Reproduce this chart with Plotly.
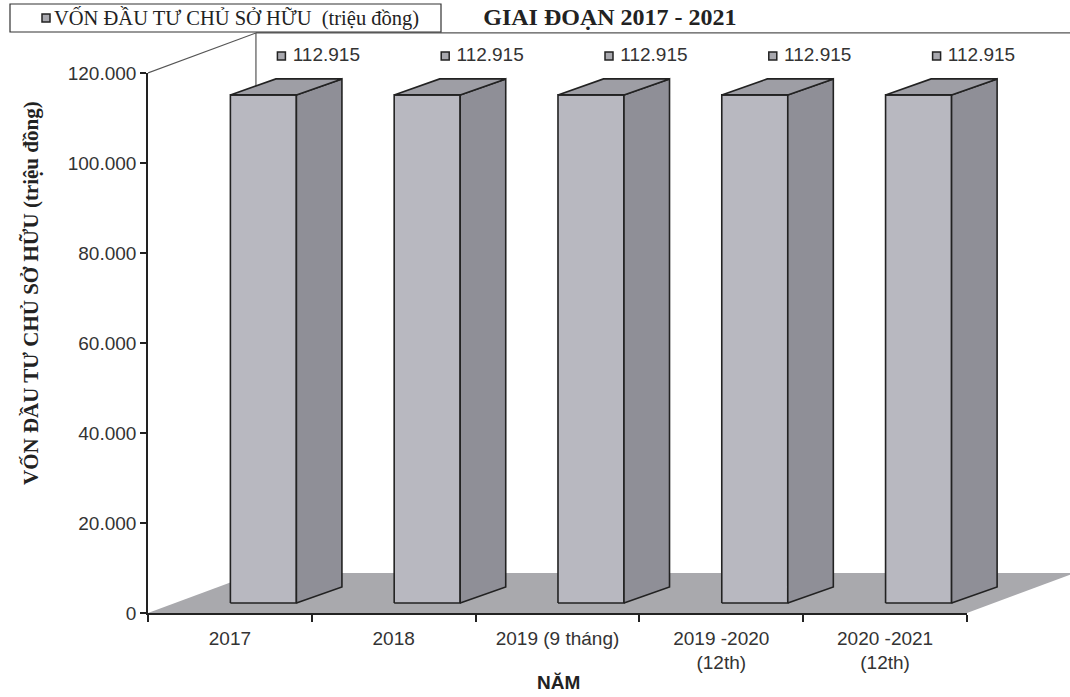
import plotly.graph_objects as go

# ---- data ---------------------------------------------------------------
categories = ["2017", "2018", "2019 (9 tháng)",
              "2019 -2020<br>(12th)", "2020 -2021<br>(12th)"]
values = [112915, 112915, 112915, 112915, 112915]
y_ticks = [0, 20000, 40000, 60000, 80000, 100000, 120000]

series_name = "VỐN ĐẦU TƯ CHỦ SỞ HỮU\u00a0\u00a0(triệu đồng)"
title_text = "GIAI ĐOẠN 2017 - 2021"
y_title = "VỐN ĐẦU TƯ CHỦ SỞ HỮU (triệu đồng)"
x_title = "NĂM"


def vn(n):
    """Vietnamese thousands separator."""
    return f"{n:,}".replace(",", ".")


# ---- oblique 3D projection (in data units) ------------------------------
AX_TOP = 120000            # value axis top
Y_MAX = 130000             # room above the axis for the back wall
X_MIN, X_MAX = -0.5, 5.129
WALL_DX, WALL_DY = 0.659, 8900      # depth of floor / back wall
BAR_BASE = 2222                      # bars stand a little into the floor
BAR_SHIFT = 0.2045                   # front face centre offset from category
BAR_HALF = 0.2015                    # half width of front face
BAR_DX, BAR_DY = 0.278, 3556         # depth of each bar
LABEL_GAP = 5100

FRONT = "#b8b8c0"
SIDE = "#8f8f97"
TOP = "#9e9ea5"
FLOOR = "#a9a9ad"
EDGE = "#222222"
MARK = "#a8a8ae"

fig = go.Figure()

# floor
n = len(categories)
fx0, fx1 = -0.5, n - 0.5
fig.add_trace(go.Scatter(
    x=[fx0, fx1, fx1 + WALL_DX, fx0 + WALL_DX, fx0],
    y=[0, 0, WALL_DY, WALL_DY, 0],
    mode="lines", fill="toself", fillcolor=FLOOR,
    line=dict(width=0, color=FLOOR),
    xaxis="x", yaxis="y2", showlegend=False, hoverinfo="skip"))

# back wall outline
wx = fx0 + WALL_DX
fig.add_trace(go.Scatter(
    x=[fx0, wx, None, wx, wx, None, wx, X_MAX],
    y=[AX_TOP, AX_TOP + WALL_DY, None, WALL_DY, AX_TOP + WALL_DY, None,
       AX_TOP + WALL_DY, AX_TOP + WALL_DY],
    mode="lines", line=dict(color="#555555", width=1.2),
    xaxis="x", yaxis="y2", showlegend=False, hoverinfo="skip"))

# bars: front, side and top faces
for i, v in enumerate(values):
    xl = i + BAR_SHIFT - BAR_HALF
    xr = i + BAR_SHIFT + BAR_HALF
    yb = BAR_BASE
    yt = BAR_BASE + v
    faces = [
        ([xl, xr, xr, xl, xl], [yb, yb, yt, yt, yb], FRONT),
        ([xr, xr + BAR_DX, xr + BAR_DX, xr, xr],
         [yb, yb + BAR_DY, yt + BAR_DY, yt, yb], SIDE),
        ([xl, xr, xr + BAR_DX, xl + BAR_DX, xl],
         [yt, yt, yt + BAR_DY, yt + BAR_DY, yt], TOP),
    ]
    for fxs, fys, col in faces:
        fig.add_trace(go.Scatter(
            x=fxs, y=fys, mode="lines", fill="toself", fillcolor=col,
            line=dict(color=EDGE, width=1.6),
            xaxis="x", yaxis="y2", showlegend=False, hoverinfo="skip"))

# value labels above each bar
fig.add_trace(go.Scatter(
    x=[i + BAR_SHIFT + 0.11 for i in range(n)],
    y=[BAR_BASE + v + BAR_DY + LABEL_GAP for v in values],
    mode="markers+text",
    text=["\u00a0" + vn(v) for v in values],
    textposition="middle right",
    textfont=dict(family="Liberation Sans", size=19, color="#333333"),
    marker=dict(symbol="square", size=8, color=MARK,
                line=dict(color=EDGE, width=1.5)),
    cliponaxis=False,
    xaxis="x", yaxis="y2", showlegend=False, hoverinfo="skip"))

# keeps the value-axis subplot alive
fig.add_trace(go.Scatter(
    x=[None], y=[None], mode="markers", name=series_name,
    xaxis="x2", yaxis="y", showlegend=False, hoverinfo="skip"))

x2_frac = (fx1 - fx0) / (X_MAX - X_MIN)
y_frac = AX_TOP / Y_MAX

# plot area in pixels, for placing the legend box and titles
PL, PW, PT, PH = 148, 922, 28, 585


def px(x):
    return (x - PL) / PW


def py(y):
    return (PT + PH - y) / PH


fig.update_layout(
    width=1070, height=697, autosize=False,
    margin=dict(l=PL, r=0, t=PT, b=697 - PT - PH),
    paper_bgcolor="white", plot_bgcolor="rgba(0,0,0,0)",
    separators=",.",
    showlegend=False,
    title=dict(text=f"<b>{title_text}</b>", x=0.570, xanchor="center",
               y=1 - 17 / 697, yanchor="middle",
               font=dict(family="Liberation Serif", size=24, color="#222222")),
    xaxis=dict(domain=[0, 1], range=[X_MIN, X_MAX], visible=False,
               anchor="y2", fixedrange=True),
    yaxis2=dict(domain=[0, 1], range=[0, Y_MAX], visible=False,
                anchor="x", fixedrange=True),
    xaxis2=dict(domain=[0, x2_frac], range=[fx0, fx1], anchor="y",
                showline=True, linecolor=EDGE, linewidth=1.6,
                showgrid=False, zeroline=False,
                tickmode="array", tickvals=list(range(n)), ticktext=categories,
                ticks="", ticklabelstandoff=7,
                minor=dict(ticks="outside", ticklen=7, tickwidth=1.5,
                           tickcolor=EDGE, tick0=-0.5, dtick=1),
                tickfont=dict(family="Liberation Sans", size=19, color="#333333"),
                fixedrange=True),
    yaxis=dict(domain=[0, y_frac], range=[0, AX_TOP], anchor="x2",
               showline=True, linecolor=EDGE, linewidth=1.6,
               showgrid=False, zeroline=False,
               tickmode="array", tickvals=y_ticks,
               ticktext=[vn(t) for t in y_ticks],
               ticks="outside", ticklen=6, tickwidth=1.5, tickcolor=EDGE,
               tickfont=dict(family="Liberation Sans", size=19, color="#333333"),
               fixedrange=True),
    shapes=[
        # legend frame and its swatch
        dict(type="rect", xref="paper", yref="paper",
             x0=px(10), x1=px(441), y0=py(32), y1=py(4),
             line=dict(color="#333333", width=1.2), fillcolor="white"),
        dict(type="rect", xref="paper", yref="paper",
             x0=px(42), x1=px(50), y0=py(22), y1=py(14),
             line=dict(color=EDGE, width=1.5), fillcolor=MARK),
    ],
    annotations=[
        dict(text=series_name, showarrow=False,
             xref="paper", yref="paper", x=px(52), y=py(18),
             xanchor="left", yanchor="middle",
             font=dict(family="Liberation Serif", size=20.5, color="#222222")),
        dict(text=f"<b>{y_title}</b>", textangle=-90, showarrow=False,
             xref="paper", yref="paper", x=px(31), y=py(293),
             xanchor="center", yanchor="middle",
             font=dict(family="Liberation Serif", size=21, color="#222222")),
        dict(text=f"<b>{x_title}</b>", showarrow=False,
             xref="paper", yref="paper", x=px(558), y=py(682),
             xanchor="center", yanchor="middle",
             font=dict(family="Liberation Sans", size=19, color="#222222")),
    ],
)

fig.write_html("out.html")
